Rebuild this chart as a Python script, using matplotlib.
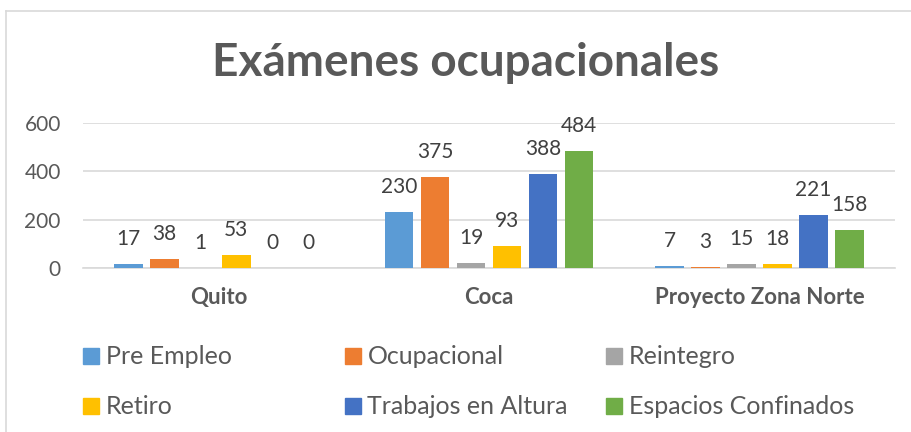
import matplotlib
matplotlib.use("Agg")
from matplotlib import pyplot as plt
from matplotlib.patches import Rectangle
from matplotlib.lines import Line2D
import numpy as np

# datos del grafico
categorias = ["Quito", "Coca", "Proyecto Zona Norte"]
series = ["Pre Empleo", "Ocupacional", "Reintegro",
          "Retiro", "Trabajos en Altura", "Espacios Confinados"]
pre_empleo = [17, 230, 7]
ocupacional = [38, 375, 3]
reintegro = [1, 19, 15]
retiro = [53, 93, 18]
trabajos_altura = [0, 388, 221]
espacios_confinados = [0, 484, 158]
valores = [pre_empleo, ocupacional, reintegro, retiro, trabajos_altura, espacios_confinados]
colores = ["#5B9BD5", "#ED7D31", "#A5A5A5", "#FFC000", "#4472C4", "#70AD47"]
yticks = [0, 200, 400, 600]

plt.rcParams['font.family'] = ['Lato', 'DejaVu Sans']
gris = "#595959"

fig = plt.figure(figsize=(9.12, 4.32), dpi=100)
ax = fig.add_axes([83 / 912, 1 - 268 / 432, 812 / 912, 145 / 432])

x = np.arange(len(categorias))
paso = 0.133
ancho = 0.105
for i in range(len(series)):
    pos = x + (i - 2.5) * paso
    ax.bar(pos, valores[i], width=ancho, color=colores[i], zorder=3)
    for px, v in zip(pos, valores[i]):
        ax.annotate(str(v), (px, v), xytext=(0, 25), textcoords='offset pixels',
                    ha='center', va='center', fontsize=15, color="#404040")

ax.set_xlim(-0.5, 2.5)
ax.set_ylim(0, 600)
ax.set_yticks(yticks)
ax.set_yticklabels([str(t) for t in yticks], fontsize=15, color=gris)
ax.set_xticks(x)
ax.set_xticklabels(categorias, fontsize=16, fontweight='bold', color=gris)
ax.tick_params(axis='both', length=0)
ax.tick_params(axis='y', pad=16)
ax.tick_params(axis='x', pad=14)
ax.grid(axis='y', color="#D9D9D9", linewidth=1.2, zorder=0)
for s in ['top', 'right', 'left']:
    ax.spines[s].set_visible(False)
ax.spines['bottom'].set_color("#D9D9D9")
ax.spines['bottom'].set_linewidth(1.2)

fig.text(466 / 912, 1 - 63 / 432, "Exámenes ocupacionales", ha='center', va='center',
         fontsize=33, fontweight='bold', color=gris)

# leyenda manual, 3 columnas
for i, nombre in enumerate(series):
    col = i % 3
    fila = i // 3
    x0 = 83 + col * 261.5
    yc = 356 + fila * 50
    fig.patches.append(Rectangle((x0 / 912, 1 - (yc + 8) / 432), 16 / 912, 16 / 432,
                                 transform=fig.transFigure, color=colores[i]))
    fig.text((x0 + 23) / 912, 1 - yc / 432, nombre, ha='left', va='center',
             fontsize=18, color=gris)

# borde del area del grafico
fig.lines.append(Line2D([6 / 912, 6 / 912], [0, 1 - 11 / 432], transform=fig.transFigure,
                        color="#D9D9D9", linewidth=1.2))
fig.lines.append(Line2D([6 / 912, 1], [1 - 11 / 432, 1 - 11 / 432], transform=fig.transFigure,
                        color="#D9D9D9", linewidth=1.2))

fig.savefig("out.png", dpi=100)
